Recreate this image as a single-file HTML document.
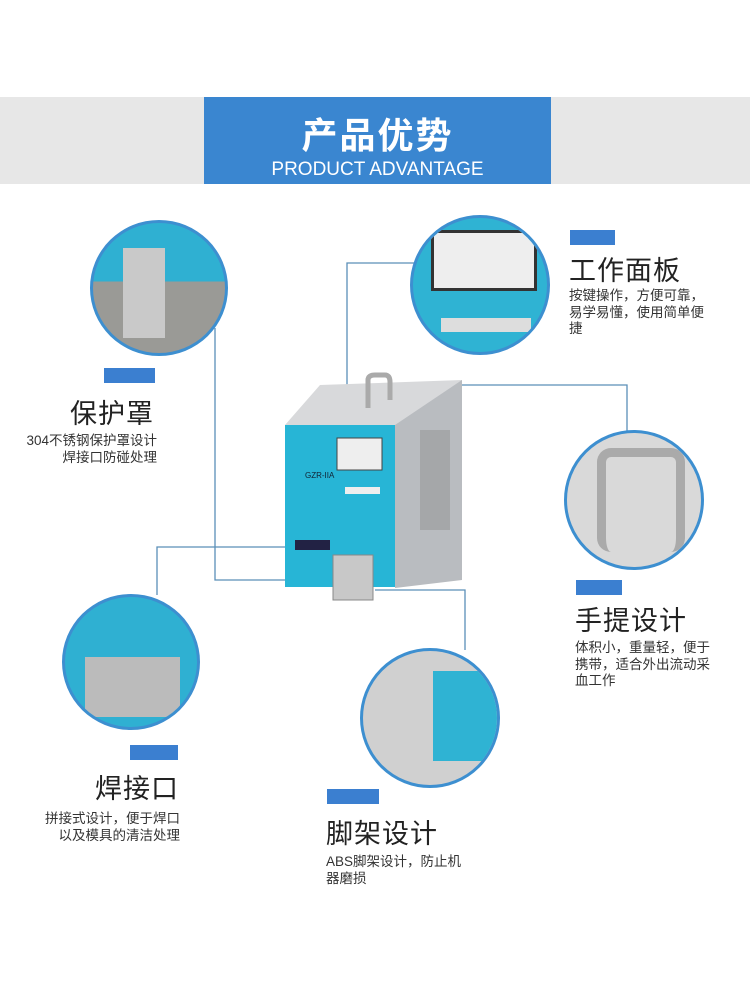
<!DOCTYPE html>
<html><head><meta charset="utf-8"><style>
body{margin:0;width:750px;height:1000px;background:#fff;position:relative;overflow:hidden;font-family:"Liberation Sans","Noto Sans CJK SC",sans-serif}
.a{position:absolute}
.bar{position:absolute;background:#3b7fd0;height:15px}
.t{position:absolute;font-size:27px;color:#222;white-space:nowrap;letter-spacing:1px}
.d{position:absolute;font-size:13.5px;color:#333;line-height:16.5px;white-space:nowrap}
.c{position:absolute;border-radius:50%;border:3px solid #3d8fd0;box-sizing:border-box;overflow:hidden}
</style></head><body>
<div class="a" style="left:0;top:97px;width:750px;height:87px;background:#e7e7e7"></div>
<div class="a" style="left:204px;top:97px;width:347px;height:87px;background:#3a86d0;color:#fff;text-align:center">
<div style="font-size:36px;font-weight:bold;margin-top:10px;letter-spacing:2px">产品优势</div>
<div style="font-size:19px;margin-top:0px">PRODUCT ADVANTAGE</div></div>

<svg class="a" style="left:0;top:0" width="750" height="1000">
<g stroke="#5a8fb8" stroke-width="1.3" fill="none">
<polyline points="215,328 215,580 335,580"/>
<polyline points="157,595 157,547 340,547"/>
<polyline points="347,475 347,263 414,263"/>
<polyline points="385,385 627,385 627,432"/>
<polyline points="375,590 465,590 465,650"/>
</g>
<polygon points="285,425 320,385 462,380 462,425 395,425" fill="#d8d9db"/>
<polygon points="395,425 462,380 462,580 395,588" fill="#b9bcc0"/>
<rect x="285" y="425" width="110" height="162" fill="#27b5d6"/>
<rect x="337" y="438" width="45" height="32" fill="#eee" stroke="#444"/>
<rect x="345" y="487" width="35" height="7" fill="#eee"/>
<rect x="295" y="540" width="35" height="10" fill="#224"/>
<rect x="333" y="555" width="40" height="45" fill="#c8c8c8" stroke="#888"/>
<path d="M368,408 V380 Q368,375 375,375 H385 Q390,375 390,382 V400" stroke="#aaa" stroke-width="5" fill="none"/>
<rect x="420" y="430" width="30" height="100" fill="#888" opacity=".4"/>
<text x="305" y="478" font-size="8" fill="#123">GZR-IIA</text>
</svg>

<div class="c" style="left:90px;top:220px;width:138px;height:136px;background:linear-gradient(#2fb0d2 0 45%,#9a9a96 45%)"><div class="a" style="left:30px;top:25px;width:42px;height:90px;background:#c9c9c9"></div></div>
<div class="c" style="left:410px;top:215px;width:140px;height:140px;background:#2fb3d3"><div class="a" style="left:18px;top:12px;width:100px;height:55px;background:#eee;border:3px solid #333"></div><div class="a" style="left:28px;top:100px;width:90px;height:14px;background:#ddd"></div></div>
<div class="c" style="left:564px;top:430px;width:140px;height:140px;background:#d9d9d9"><div class="a" style="left:30px;top:15px;width:70px;height:95px;border:9px solid #aaa;border-bottom:none;border-radius:14px"></div></div>
<div class="c" style="left:62px;top:594px;width:138px;height:136px;background:#2fb0d2"><div class="a" style="left:20px;top:60px;width:95px;height:60px;background:#bbb"></div></div>
<div class="c" style="left:360px;top:648px;width:140px;height:140px;background:#d0d0d0"><div class="a" style="left:70px;top:20px;width:80px;height:90px;background:#2fb3d3"></div></div>

<div class="bar" style="left:104px;top:368px;width:51px"></div>
<div class="t" style="left:70px;top:392px">保护罩</div>
<div class="d" style="left:5px;top:433px;text-align:right;width:152px">304不锈钢保护罩设计<br>焊接口防碰处理</div>

<div class="bar" style="left:570px;top:230px;width:45px"></div>
<div class="t" style="left:569px;top:249px">工作面板</div>
<div class="d" style="left:569px;top:288px">按键操作，方便可靠，<br>易学易懂，使用简单便<br>捷</div>

<div class="bar" style="left:576px;top:580px;width:46px"></div>
<div class="t" style="left:575px;top:599px">手提设计</div>
<div class="d" style="left:575px;top:640px">体积小，重量轻，便于<br>携带，适合外出流动采<br>血工作</div>

<div class="bar" style="left:130px;top:745px;width:48px"></div>
<div class="t" style="left:95px;top:767px">焊接口</div>
<div class="d" style="left:20px;top:811px;width:160px;text-align:right">拼接式设计，便于焊口<br>以及模具的清洁处理</div>

<div class="bar" style="left:327px;top:789px;width:52px"></div>
<div class="t" style="left:326px;top:812px">脚架设计</div>
<div class="d" style="left:326px;top:854px">ABS脚架设计，防止机<br>器磨损</div>
</body></html>
